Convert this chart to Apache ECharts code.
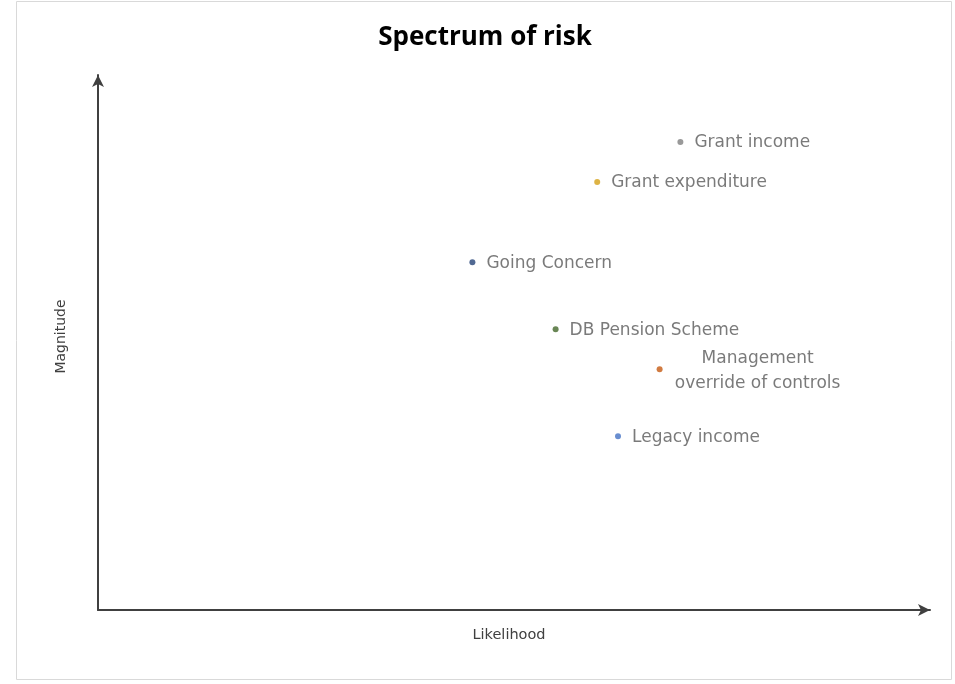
<!DOCTYPE html>
<html><head><meta charset="utf-8">
<script src="https://cdn.jsdelivr.net/npm/echarts@6/dist/echarts.min.js"></script>
<style>html,body{margin:0;padding:0;background:#fff}#c{width:955px;height:684px}</style>
</head><body><div id="c"></div>
<script>
var names = ['Grant income','Grant expenditure','Going Concern','DB Pension Scheme','Management\noverride of controls','Legacy income'];
var likelihood = [7.0, 6.0, 4.5, 5.5, 6.75, 6.25];
var magnitude = [8.75, 8.0, 6.5, 5.25, 4.5, 3.25];
var colors = ['#7f7f7f','#d4a017','#264478','#43682b','#c55a11','#4472c4'];

var chart = echarts.init(document.getElementById('c'));
var series = names.map(function(n,i){
  return {
    type:'scatter', name:n, symbolSize:6,
    itemStyle:{color:colors[i]},
    data:[[likelihood[i], magnitude[i]]],
    label:{show:true, position:'right', distance:11, formatter:n, color:'#595959',
      fontSize:17, fontFamily:'DejaVu Sans', align: i===4?'center':'left', lineHeight:25,
      offset: i===4?[84,2]:[0,1]}
  };
});
chart.setOption({
  animation:false,
  title:{text:'Spectrum of risk', left:480, top:20, textAlign:'center',
    textStyle:{fontSize:26, fontWeight:'bold', color:'#000', fontFamily:'Open Sans'}},
  graphic:[{type:'rect', shape:{x:16.5,y:1.5,width:935,height:678}, style:{fill:'none', stroke:'#d9d9d9', lineWidth:1}}],
  grid:{left:98, right:25, top:75, bottom:74},
  xAxis:{type:'value', min:0, max:10, name:'Likelihood', nameLocation:'middle', nameGap:18,
    nameTextStyle:{fontSize:14.5, color:'#404040', fontFamily:'DejaVu Sans', padding:[0,10,0,0]},
    axisLine:{show:true, lineStyle:{color:'#404040', width:2}, symbol:['none','arrow'], symbolSize:[9,12], symbolOffset:[0,0]},
    axisTick:{show:false}, axisLabel:{show:false}, splitLine:{show:false}},
  yAxis:{type:'value', min:0, max:10, name:'Magnitude', nameLocation:'middle', nameGap:30, nameRotate:90,
    nameTextStyle:{fontSize:14, color:'#404040', fontFamily:'DejaVu Sans', padding:[0,0,0,12]},
    axisLine:{show:true, lineStyle:{color:'#404040', width:2}, symbol:['none','arrow'], symbolSize:[9,12], symbolOffset:[0,0]},
    axisTick:{show:false}, axisLabel:{show:false}, splitLine:{show:false}},
  series:series
});
</script></body></html>
